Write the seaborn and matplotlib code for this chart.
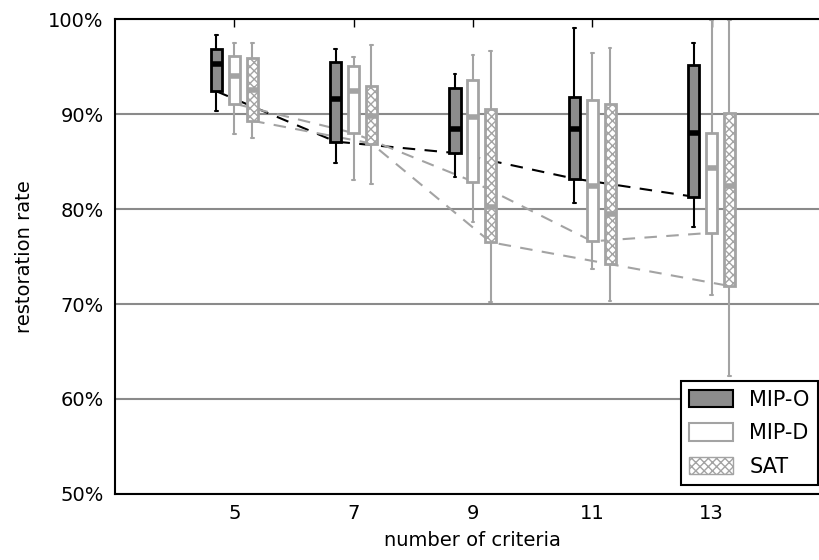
import numpy as np
import pandas as pd
import matplotlib
matplotlib.use("Agg")
import matplotlib.pyplot as plt
import seaborn as sns
from matplotlib.patches import Patch
from matplotlib.ticker import FuncFormatter

criteria = [5, 7, 9, 11, 13]
methods = ["MIP-O", "MIP-D", "SAT"]

# five-number summaries per criteria count: whisker low, q1, median, q3, whisker high (%)
mip_o = [
    [90.3, 92.4, 95.3, 96.8, 98.3],
    [84.8, 87.1, 91.6, 95.5, 96.8],
    [83.4, 85.9, 88.4, 92.7, 94.2],
    [80.6, 83.2, 88.4, 91.8, 99.1],
    [78.1, 81.3, 88.0, 95.2, 97.5],
]
mip_d = [
    [87.9, 91.1, 94.0, 96.1, 97.5],
    [83.1, 88.0, 92.4, 95.1, 96.0],
    [78.6, 82.9, 89.7, 93.6, 96.2],
    [73.7, 76.6, 82.4, 91.5, 96.4],
    [71.0, 77.5, 84.3, 88.0, 99.9],
]
sat = [
    [87.5, 89.3, 92.5, 95.9, 97.5],
    [82.6, 86.9, 89.8, 93.0, 97.3],
    [70.2, 76.5, 80.2, 90.5, 96.6],
    [70.3, 74.2, 79.5, 91.1, 97.0],
    [62.4, 71.9, 82.4, 90.1, 99.9],
]

# dashed trend lines
mip_o_trend = [92.4, 87.1, 85.9, 83.2, 81.3]
mip_d_trend = [91.1, 88.0, 82.9, 76.6, 77.5]
sat_trend = [89.3, 86.9, 76.5, 74.2, 71.9]

# build long table: 5 points per box reproduce the quartiles exactly
rows = []
for name, summaries in zip(methods, [mip_o, mip_d, sat]):
    for c, summary in zip(criteria, summaries):
        for v in summary:
            rows.append({"criteria": c, "rate": v, "method": name})
df = pd.DataFrame(rows)

sns.set_style("white")
plt.rcParams["font.family"] = ["DejaVu Sans"]
plt.rcParams["text.color"] = "black"
plt.rcParams["axes.labelcolor"] = "black"

fig = plt.figure(figsize=(8.2, 5.6), dpi=100)
ax = fig.add_axes([0.1402, 0.1179, 0.873, 0.848])

sns.boxplot(
    data=df, x="criteria", y="rate", hue="method", hue_order=methods,
    native_scale=True, whis=(0, 100), width=0.45, gap=0.38,
    linewidth=1.5, showfliers=False, legend=False, ax=ax,
)

gray = "#a3a3a3"
styles = {
    "MIP-O": dict(face="#8c8c8c", edge="black", hatch=None),
    "MIP-D": dict(face="white", edge=gray, hatch=None),
    "SAT": dict(face="white", edge=gray, hatch="xxxx"),
}

centers = {}
for name, cont in zip(methods, ax.containers):
    st = styles[name]
    xs = []
    for box in cont.boxes:
        box.set_facecolor(st["face"])
        box.set_edgecolor(st["edge"])
        box.set_linewidth(2)
        if st["hatch"]:
            box.set_hatch(st["hatch"])
        ext = box.get_path().get_extents()
        xs.append((ext.x0 + ext.x1) / 2)
    for ln in cont.medians:
        ln.set_color(st["edge"])
        ln.set_linewidth(4)
        ln.set_solid_capstyle("butt")
    for ln in cont.whiskers:
        ln.set_color(st["edge"])
        ln.set_linewidth(1.5)
    for ln in cont.caps:
        # shorter caps, about half the box width
        x = np.asarray(ln.get_xdata(), dtype=float)
        mid = x.mean()
        ln.set_xdata(mid + (x - mid) * 0.5)
        ln.set_color(st["edge"])
        ln.set_linewidth(1.5)
    centers[name] = xs

for name, trend, color in zip(methods, [mip_o_trend, mip_d_trend, sat_trend],
                              ["black", gray, gray]):
    ax.plot(centers[name], trend, ls=(0, (6, 4.5)), color=color, lw=1.5, zorder=1.8)

ax.set_xlim(3, 15)
ax.set_ylim(50, 100)
ax.set_xticks(criteria)
ax.set_xticklabels([str(c) for c in criteria])
ax.set_yticks([50, 60, 70, 80, 90, 100])
ax.yaxis.set_major_formatter(FuncFormatter(lambda v, p: f"{v:.0f}%"))
ax.yaxis.grid(True, color="#8a8a8a", lw=1.5)
ax.xaxis.grid(False)
ax.set_axisbelow(True)

for sp in ax.spines.values():
    sp.set_color("black")
    sp.set_linewidth(1.5)

ax.tick_params(direction="in", top=True, right=True, length=6, width=1,
               labelsize=14, colors="black")
ax.tick_params(axis="x", pad=7)
ax.tick_params(axis="y", pad=8)
ax.set_xlabel("number of criteria", fontsize=14, labelpad=6, color="black")
ax.set_ylabel("restoration rate", fontsize=14, labelpad=10, color="black")

handles = [
    Patch(facecolor="#8c8c8c", edgecolor="black", linewidth=1.5, label="MIP-O"),
    Patch(facecolor="white", edgecolor=gray, linewidth=1.5, label="MIP-D"),
    Patch(facecolor="white", edgecolor=gray, linewidth=1.0, hatch="xxxx", label="SAT"),
]
leg = ax.legend(handles=handles, loc="lower right", fontsize=15, fancybox=False,
                framealpha=1, edgecolor="black", handlelength=2.1, handleheight=0.9,
                labelspacing=0.65, borderaxespad=0, labelcolor="black",
                bbox_to_anchor=(818 / 820, 75 / 560), bbox_transform=fig.transFigure)
leg.get_frame().set_linewidth(1.5)

fig.savefig("out.png", dpi=100)
